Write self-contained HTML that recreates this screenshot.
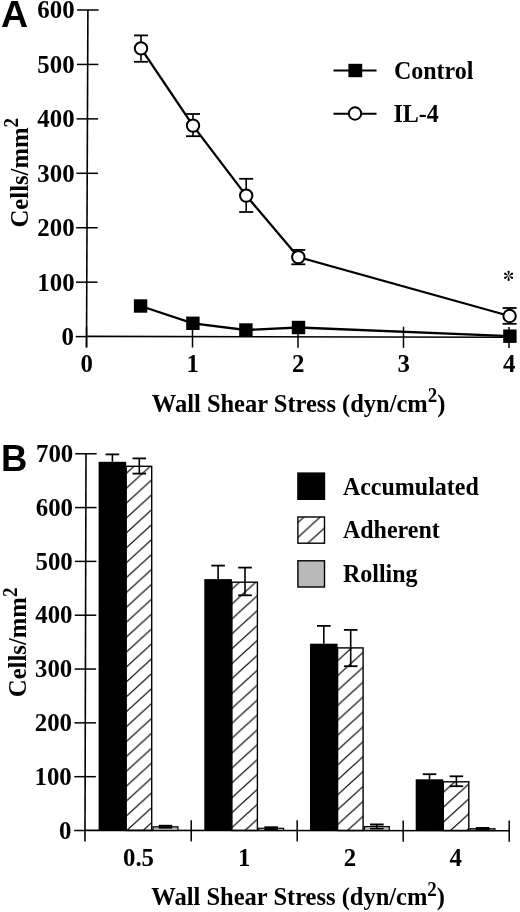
<!DOCTYPE html>
<html><head><meta charset="utf-8"><style>
html,body{margin:0;padding:0;background:#fff;}
svg{display:block;will-change:transform;}
text{font-family:"Liberation Serif", serif;font-weight:bold;fill:#000;}
text.lab{font-family:"Liberation Sans", sans-serif;}
text.ast{font-weight:normal;}
</style></head><body>
<svg width="520" height="912" viewBox="0 0 520 912">
<text x="1" y="27.3" class="lab" font-size="37.5">A</text>
<line x1="87.90" y1="10.00" x2="86.50" y2="347.50" stroke="#000" stroke-width="1.6"/>
<line x1="75.75" y1="336.60" x2="86.55" y2="336.60" stroke="#000" stroke-width="1.5"/>
<text transform="translate(74.00,345.00) scale(1.035,1.05)" font-size="24" text-anchor="end" >0</text>
<line x1="75.97" y1="282.17" x2="97.47" y2="282.17" stroke="#000" stroke-width="1.5"/>
<text transform="translate(74.60,290.57) scale(1.035,1.05)" font-size="24" text-anchor="end" >100</text>
<line x1="76.20" y1="227.73" x2="97.70" y2="227.73" stroke="#000" stroke-width="1.5"/>
<text transform="translate(74.60,236.13) scale(1.035,1.05)" font-size="24" text-anchor="end" >200</text>
<line x1="76.42" y1="173.30" x2="97.92" y2="173.30" stroke="#000" stroke-width="1.5"/>
<text transform="translate(74.60,181.70) scale(1.035,1.05)" font-size="24" text-anchor="end" >300</text>
<line x1="76.65" y1="118.87" x2="98.15" y2="118.87" stroke="#000" stroke-width="1.5"/>
<text transform="translate(74.60,127.27) scale(1.035,1.05)" font-size="24" text-anchor="end" >400</text>
<line x1="76.87" y1="64.43" x2="98.37" y2="64.43" stroke="#000" stroke-width="1.5"/>
<text transform="translate(74.60,72.83) scale(1.035,1.05)" font-size="24" text-anchor="end" >500</text>
<line x1="77.10" y1="10.00" x2="98.60" y2="10.00" stroke="#000" stroke-width="1.5"/>
<text transform="translate(74.60,18.40) scale(1.035,1.05)" font-size="24" text-anchor="end" >600</text>
<line x1="86.55" y1="336.40" x2="509.50" y2="337.20" stroke="#000" stroke-width="1.6"/>
<line x1="86.55" y1="326.10" x2="86.55" y2="347.30" stroke="#000" stroke-width="1.5"/>
<text transform="translate(86.75,372.30) scale(1.035,1.05)" font-size="24" text-anchor="middle" >0</text>
<line x1="192.50" y1="326.30" x2="192.50" y2="347.50" stroke="#000" stroke-width="1.5"/>
<text transform="translate(192.70,372.30) scale(1.035,1.05)" font-size="24" text-anchor="middle" >1</text>
<line x1="298.00" y1="326.50" x2="298.00" y2="347.70" stroke="#000" stroke-width="1.5"/>
<text transform="translate(298.20,372.30) scale(1.035,1.05)" font-size="24" text-anchor="middle" >2</text>
<line x1="403.50" y1="326.70" x2="403.50" y2="347.90" stroke="#000" stroke-width="1.5"/>
<text transform="translate(403.70,372.30) scale(1.035,1.05)" font-size="24" text-anchor="middle" >3</text>
<line x1="509.00" y1="326.90" x2="509.00" y2="348.10" stroke="#000" stroke-width="1.5"/>
<text transform="translate(509.20,372.30) scale(1.035,1.05)" font-size="24" text-anchor="middle" >4</text>
<text transform="translate(298.60,411.50) scale(1.0,1.05)" font-size="24.5" text-anchor="middle" >Wall Shear Stress (dyn/cm<tspan dy="-8.7" font-size="19">2</tspan><tspan dy="8.7">)</tspan></text>
<text transform="translate(27.6,172.7) rotate(-90) scale(1.0,1.05)" font-size="24.7" text-anchor="middle">Cells/mm<tspan dy="-8.7" font-size="19">2</tspan></text>
<polyline points="141.0,48.4 193.0,125.6 246.2,195.6 298.3,257.1 509.6,316.0" fill="none" stroke="#000" stroke-width="2.3"/>
<polyline points="140.6,306.0 192.9,323.3 245.9,330.0 298.5,327.5 509.9,336.2" fill="none" stroke="#000" stroke-width="2.3"/>
<line x1="141.00" y1="35.40" x2="141.00" y2="61.80" stroke="#000" stroke-width="1.6"/>
<line x1="134.00" y1="35.40" x2="148.00" y2="35.40" stroke="#000" stroke-width="1.8"/>
<line x1="134.00" y1="61.80" x2="148.00" y2="61.80" stroke="#000" stroke-width="1.8"/>
<line x1="193.00" y1="114.00" x2="193.00" y2="136.20" stroke="#000" stroke-width="1.6"/>
<line x1="186.00" y1="114.00" x2="200.00" y2="114.00" stroke="#000" stroke-width="1.8"/>
<line x1="186.00" y1="136.20" x2="200.00" y2="136.20" stroke="#000" stroke-width="1.8"/>
<line x1="246.20" y1="178.80" x2="246.20" y2="212.00" stroke="#000" stroke-width="1.6"/>
<line x1="239.20" y1="178.80" x2="253.20" y2="178.80" stroke="#000" stroke-width="1.8"/>
<line x1="239.20" y1="212.00" x2="253.20" y2="212.00" stroke="#000" stroke-width="1.8"/>
<line x1="298.30" y1="249.90" x2="298.30" y2="264.30" stroke="#000" stroke-width="1.6"/>
<line x1="291.30" y1="249.90" x2="305.30" y2="249.90" stroke="#000" stroke-width="1.8"/>
<line x1="291.30" y1="264.30" x2="305.30" y2="264.30" stroke="#000" stroke-width="1.8"/>
<line x1="509.60" y1="308.00" x2="509.60" y2="323.80" stroke="#000" stroke-width="1.6"/>
<line x1="502.60" y1="308.00" x2="516.60" y2="308.00" stroke="#000" stroke-width="1.8"/>
<line x1="502.60" y1="323.80" x2="516.60" y2="323.80" stroke="#000" stroke-width="1.8"/>
<circle cx="141" cy="48.4" r="6.2" fill="#fff" stroke="#000" stroke-width="2"/>
<circle cx="193" cy="125.6" r="6.2" fill="#fff" stroke="#000" stroke-width="2"/>
<circle cx="246.2" cy="195.6" r="6.2" fill="#fff" stroke="#000" stroke-width="2"/>
<circle cx="298.3" cy="257.1" r="6.2" fill="#fff" stroke="#000" stroke-width="2"/>
<circle cx="509.6" cy="316" r="6.2" fill="#fff" stroke="#000" stroke-width="2"/>
<rect x="133.90" y="299.30" width="13.4" height="13.4" fill="#000"/>
<rect x="186.20" y="316.60" width="13.4" height="13.4" fill="#000"/>
<rect x="239.20" y="323.30" width="13.4" height="13.4" fill="#000"/>
<rect x="291.80" y="320.80" width="13.4" height="13.4" fill="#000"/>
<rect x="503.20" y="329.50" width="13.4" height="13.4" fill="#000"/>
<g transform="translate(508.6,275.8)" fill="#000"><path transform="rotate(0)" d="M-0.2,-0.6 L-1.05,-3.7 A1.1,1.1 0 1 1 1.05,-3.7 L0.2,-0.6 Z"/><path transform="rotate(60)" d="M-0.2,-0.6 L-1.05,-3.7 A1.1,1.1 0 1 1 1.05,-3.7 L0.2,-0.6 Z"/><path transform="rotate(120)" d="M-0.2,-0.6 L-1.05,-3.7 A1.1,1.1 0 1 1 1.05,-3.7 L0.2,-0.6 Z"/><path transform="rotate(180)" d="M-0.2,-0.6 L-1.05,-3.7 A1.1,1.1 0 1 1 1.05,-3.7 L0.2,-0.6 Z"/><path transform="rotate(240)" d="M-0.2,-0.6 L-1.05,-3.7 A1.1,1.1 0 1 1 1.05,-3.7 L0.2,-0.6 Z"/><path transform="rotate(300)" d="M-0.2,-0.6 L-1.05,-3.7 A1.1,1.1 0 1 1 1.05,-3.7 L0.2,-0.6 Z"/></g>
<line x1="333.50" y1="70.50" x2="376.50" y2="70.50" stroke="#000" stroke-width="2"/>
<rect x="348.4" y="63.8" width="13.8" height="13.4" fill="#000"/>
<text transform="translate(393.90,78.90) scale(1.0,1.05)" font-size="24" text-anchor="start" >Control</text>
<line x1="333.50" y1="113.80" x2="376.50" y2="113.80" stroke="#000" stroke-width="2"/>
<circle cx="355" cy="113.5" r="6.2" fill="#fff" stroke="#000" stroke-width="2"/>
<text transform="translate(393.50,122.30) scale(1.0,1.05)" font-size="24" text-anchor="start" >IL-4</text>
<text x="1" y="470.6" class="lab" font-size="36.5">B</text>
<line x1="86.00" y1="453.75" x2="84.97" y2="841.50" stroke="#000" stroke-width="1.6"/>
<line x1="74.20" y1="830.50" x2="85.00" y2="830.50" stroke="#000" stroke-width="1.5"/>
<text transform="translate(71.50,838.70) scale(1.035,1.05)" font-size="24" text-anchor="end" >0</text>
<line x1="74.34" y1="776.68" x2="95.84" y2="776.68" stroke="#000" stroke-width="1.5"/>
<text transform="translate(71.76,784.88) scale(1.035,1.05)" font-size="24" text-anchor="end" >100</text>
<line x1="74.49" y1="722.86" x2="95.99" y2="722.86" stroke="#000" stroke-width="1.5"/>
<text transform="translate(72.02,731.06) scale(1.035,1.05)" font-size="24" text-anchor="end" >200</text>
<line x1="74.63" y1="669.04" x2="96.13" y2="669.04" stroke="#000" stroke-width="1.5"/>
<text transform="translate(72.27,677.24) scale(1.035,1.05)" font-size="24" text-anchor="end" >300</text>
<line x1="74.77" y1="615.21" x2="96.27" y2="615.21" stroke="#000" stroke-width="1.5"/>
<text transform="translate(72.53,623.41) scale(1.035,1.05)" font-size="24" text-anchor="end" >400</text>
<line x1="74.91" y1="561.39" x2="96.41" y2="561.39" stroke="#000" stroke-width="1.5"/>
<text transform="translate(72.79,569.59) scale(1.035,1.05)" font-size="24" text-anchor="end" >500</text>
<line x1="75.06" y1="507.57" x2="96.56" y2="507.57" stroke="#000" stroke-width="1.5"/>
<text transform="translate(73.04,515.77) scale(1.035,1.05)" font-size="24" text-anchor="end" >600</text>
<line x1="75.20" y1="453.75" x2="96.70" y2="453.75" stroke="#000" stroke-width="1.5"/>
<text transform="translate(73.30,461.95) scale(1.035,1.05)" font-size="24" text-anchor="end" >700</text>
<line x1="85.00" y1="830.40" x2="509.50" y2="830.80" stroke="#000" stroke-width="1.6"/>
<line x1="191.20" y1="820.20" x2="191.20" y2="841.50" stroke="#000" stroke-width="1.5"/>
<line x1="297.20" y1="820.30" x2="297.20" y2="841.60" stroke="#000" stroke-width="1.5"/>
<line x1="403.20" y1="820.40" x2="403.20" y2="841.70" stroke="#000" stroke-width="1.5"/>
<line x1="509.20" y1="820.50" x2="509.20" y2="841.80" stroke="#000" stroke-width="1.5"/>
<text transform="translate(138.50,866.20) scale(1.035,1.05)" font-size="24" text-anchor="middle" >0.5</text>
<text transform="translate(244.20,866.20) scale(1.035,1.05)" font-size="24" text-anchor="middle" >1</text>
<text transform="translate(349.90,866.20) scale(1.035,1.05)" font-size="24" text-anchor="middle" >2</text>
<text transform="translate(455.60,866.20) scale(1.035,1.05)" font-size="24" text-anchor="middle" >4</text>
<text transform="translate(298.20,904.80) scale(1.0,1.05)" font-size="24.5" text-anchor="middle" >Wall Shear Stress (dyn/cm<tspan dy="-8.7" font-size="19">2</tspan><tspan dy="8.7">)</tspan></text>
<text transform="translate(25.8,642.4) rotate(-90) scale(1.0,1.05)" font-size="24.7" text-anchor="middle">Cells/mm<tspan dy="-8.7" font-size="19">2</tspan></text>
<defs><pattern id="h0" patternUnits="userSpaceOnUse" width="16.3" height="14.9" x="126.2" y="577.7"><line x1="-16.30" y1="14.90" x2="32.60" y2="-29.80" stroke="#000" stroke-width="1.25"/><line x1="-16.30" y1="29.80" x2="32.60" y2="-14.90" stroke="#000" stroke-width="1.25"/><line x1="-16.30" y1="44.70" x2="32.60" y2="0.00" stroke="#000" stroke-width="1.25"/></pattern><pattern id="h1" patternUnits="userSpaceOnUse" width="16.3" height="14.9" x="231.6" y="693.7"><line x1="-16.30" y1="14.90" x2="32.60" y2="-29.80" stroke="#000" stroke-width="1.25"/><line x1="-16.30" y1="29.80" x2="32.60" y2="-14.90" stroke="#000" stroke-width="1.25"/><line x1="-16.30" y1="44.70" x2="32.60" y2="0.00" stroke="#000" stroke-width="1.25"/></pattern><pattern id="h2" patternUnits="userSpaceOnUse" width="16.3" height="14.9" x="337.5" y="690.6"><line x1="-16.30" y1="14.90" x2="32.60" y2="-29.80" stroke="#000" stroke-width="1.25"/><line x1="-16.30" y1="29.80" x2="32.60" y2="-14.90" stroke="#000" stroke-width="1.25"/><line x1="-16.30" y1="44.70" x2="32.60" y2="0.00" stroke="#000" stroke-width="1.25"/></pattern><pattern id="h3" patternUnits="userSpaceOnUse" width="16.3" height="14.9" x="443.5" y="792.2"><line x1="-16.30" y1="14.90" x2="32.60" y2="-29.80" stroke="#000" stroke-width="1.25"/><line x1="-16.30" y1="29.80" x2="32.60" y2="-14.90" stroke="#000" stroke-width="1.25"/><line x1="-16.30" y1="44.70" x2="32.60" y2="0.00" stroke="#000" stroke-width="1.25"/></pattern><pattern id="hl" patternUnits="userSpaceOnUse" width="16.3" height="14.9" x="297.9" y="537.4"><line x1="-16.30" y1="14.90" x2="32.60" y2="-29.80" stroke="#000" stroke-width="1.25"/><line x1="-16.30" y1="29.80" x2="32.60" y2="-14.90" stroke="#000" stroke-width="1.25"/><line x1="-16.30" y1="44.70" x2="32.60" y2="0.00" stroke="#000" stroke-width="1.25"/></pattern></defs>
<line x1="112.40" y1="454.40" x2="112.40" y2="461.80" stroke="#000" stroke-width="1.6"/>
<line x1="105.60" y1="454.40" x2="119.20" y2="454.40" stroke="#000" stroke-width="1.8"/>
<rect x="98.60" y="461.80" width="27.60" height="368.70" fill="#000"/>
<rect x="126.20" y="466.30" width="25.50" height="364.20" fill="url(#h0)" stroke="#000" stroke-width="1.4"/>
<line x1="139.30" y1="458.40" x2="139.30" y2="473.60" stroke="#000" stroke-width="1.6"/>
<line x1="132.50" y1="458.40" x2="146.10" y2="458.40" stroke="#000" stroke-width="1.8"/>
<line x1="132.50" y1="473.60" x2="146.10" y2="473.60" stroke="#000" stroke-width="1.8"/>
<rect x="153.00" y="826.80" width="24.90" height="3.70" fill="#b9b9b9" stroke="#000" stroke-width="1.2"/>
<line x1="165.45" y1="825.80" x2="165.45" y2="827.80" stroke="#000" stroke-width="1.6"/>
<line x1="158.65" y1="825.80" x2="172.25" y2="825.80" stroke="#000" stroke-width="2.0"/>
<line x1="158.65" y1="827.80" x2="172.25" y2="827.80" stroke="#000" stroke-width="1.6"/>
<line x1="218.10" y1="565.60" x2="218.10" y2="579.10" stroke="#000" stroke-width="1.6"/>
<line x1="211.30" y1="565.60" x2="224.90" y2="565.60" stroke="#000" stroke-width="1.8"/>
<rect x="204.30" y="579.10" width="27.60" height="251.40" fill="#000"/>
<rect x="231.90" y="582.20" width="25.50" height="248.30" fill="url(#h1)" stroke="#000" stroke-width="1.4"/>
<line x1="245.00" y1="567.60" x2="245.00" y2="595.30" stroke="#000" stroke-width="1.6"/>
<line x1="238.20" y1="567.60" x2="251.80" y2="567.60" stroke="#000" stroke-width="1.8"/>
<line x1="238.20" y1="595.30" x2="251.80" y2="595.30" stroke="#000" stroke-width="1.8"/>
<rect x="258.70" y="828.30" width="24.90" height="2.20" fill="#b9b9b9" stroke="#000" stroke-width="1.2"/>
<line x1="271.15" y1="827.30" x2="271.15" y2="829.30" stroke="#000" stroke-width="1.6"/>
<line x1="264.35" y1="827.30" x2="277.95" y2="827.30" stroke="#000" stroke-width="2.0"/>
<line x1="264.35" y1="829.30" x2="277.95" y2="829.30" stroke="#000" stroke-width="1.6"/>
<line x1="323.80" y1="625.90" x2="323.80" y2="643.70" stroke="#000" stroke-width="1.6"/>
<line x1="317.00" y1="625.90" x2="330.60" y2="625.90" stroke="#000" stroke-width="1.8"/>
<rect x="310.00" y="643.70" width="27.60" height="186.80" fill="#000"/>
<rect x="337.60" y="647.90" width="25.50" height="182.60" fill="url(#h2)" stroke="#000" stroke-width="1.4"/>
<line x1="350.70" y1="629.90" x2="350.70" y2="666.20" stroke="#000" stroke-width="1.6"/>
<line x1="343.90" y1="629.90" x2="357.50" y2="629.90" stroke="#000" stroke-width="1.8"/>
<line x1="343.90" y1="666.20" x2="357.50" y2="666.20" stroke="#000" stroke-width="1.8"/>
<rect x="364.40" y="826.60" width="24.90" height="3.90" fill="#b9b9b9" stroke="#000" stroke-width="1.2"/>
<line x1="376.85" y1="824.50" x2="376.85" y2="828.70" stroke="#000" stroke-width="1.6"/>
<line x1="370.05" y1="824.50" x2="383.65" y2="824.50" stroke="#000" stroke-width="2.0"/>
<line x1="370.05" y1="828.70" x2="383.65" y2="828.70" stroke="#000" stroke-width="1.6"/>
<line x1="429.50" y1="774.20" x2="429.50" y2="779.30" stroke="#000" stroke-width="1.6"/>
<line x1="422.70" y1="774.20" x2="436.30" y2="774.20" stroke="#000" stroke-width="1.8"/>
<rect x="415.70" y="779.30" width="27.60" height="51.20" fill="#000"/>
<rect x="443.30" y="781.80" width="25.50" height="48.70" fill="url(#h3)" stroke="#000" stroke-width="1.4"/>
<line x1="456.40" y1="776.30" x2="456.40" y2="786.20" stroke="#000" stroke-width="1.6"/>
<line x1="449.60" y1="776.30" x2="463.20" y2="776.30" stroke="#000" stroke-width="1.8"/>
<line x1="449.60" y1="786.20" x2="463.20" y2="786.20" stroke="#000" stroke-width="1.8"/>
<rect x="470.10" y="828.75" width="24.90" height="1.75" fill="#b9b9b9" stroke="#000" stroke-width="1.2"/>
<line x1="482.55" y1="828.00" x2="482.55" y2="829.50" stroke="#000" stroke-width="1.6"/>
<line x1="475.75" y1="828.00" x2="489.35" y2="828.00" stroke="#000" stroke-width="2.0"/>
<line x1="475.75" y1="829.50" x2="489.35" y2="829.50" stroke="#000" stroke-width="1.6"/>
<rect x="297.2" y="472.4" width="28" height="27.6" fill="#000"/>
<rect x="297.9" y="517" width="26.6" height="26.2" fill="url(#hl)" stroke="#000" stroke-width="1.4"/>
<rect x="297.9" y="560.8" width="26.6" height="26.2" fill="#b9b9b9" stroke="#000" stroke-width="1.4"/>
<text transform="translate(342.90,494.80) scale(1.0,1.05)" font-size="24" text-anchor="start" >Accumulated</text>
<text transform="translate(342.90,537.80) scale(1.0,1.05)" font-size="24" text-anchor="start" >Adherent</text>
<text transform="translate(342.90,581.90) scale(1.0,1.05)" font-size="24" text-anchor="start" >Rolling</text>
</svg>
</body></html>
